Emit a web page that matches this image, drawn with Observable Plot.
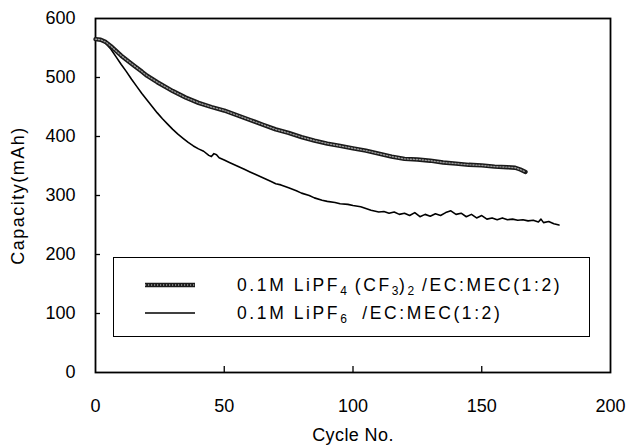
<!DOCTYPE html>
<html>
<head>
<meta charset="utf-8">
<script src="https://cdn.jsdelivr.net/npm/d3@7"></script>
<script src="https://cdn.jsdelivr.net/npm/@observablehq/plot@0.6"></script>
<style>
  html, body { margin: 0; padding: 0; background: #fff; }
  #wrap { position: relative; width: 638px; height: 445px; font-family: "Liberation Sans", Arial, sans-serif; }
  #legend { position: absolute; left: 113px; top: 257px; width: 475px; height: 78px; border: 1.5px solid #000; background: #fff; box-sizing: content-box; }
  .row { position: absolute; left: 0; height: 20px; display: flex; align-items: center; font-size: 17.5px; letter-spacing: 2.6px; color: #000; white-space: pre; }
  .row svg { margin-left: 31px; margin-right: 42px; }
  sub { font-size: 12px; vertical-align: -4px; line-height: 0; letter-spacing: 0.5px; }
</style>
</head>
<body>
<div id="wrap"></div>
<script>
// Series: LiPF4(CF3)2 / EC:MEC(1:2)
const cycA = [0,2,4,6,8,10,12,15,18,20,24,28,30,35,40,45,50,55,60,65,70,75,80,85,90,95,100,105,110,115,120,125,130,135,140,145,150,155,160,163,165,167];
const capA = [565,564,560,553,545,537,530,520,510,503,492,482,477,466,457,450,444,436,428,420,412,406,399,393,388,384,380,376,371,366,362,361,359,356,354,352,351,349,348,347,344,340];
// Series: LiPF6 / EC:MEC(1:2)
const cycB = [0,2,4,6,8,10,12,14,16,18,20,22,24,26,28,30,32,34,36,38,40,42,44,45,46,47,48,50,52,55,58,60,62,65,68,70,72,75,78,80,83,85,88,90,93,95,98,100,103,105,107,110,112,114,116,118,120,122,124,126,128,130,132,134,136,138,140,142,144,146,148,150,152,154,156,158,160,162,164,166,168,170,172,173,174,176,178,180];
const capB = [565,563,558,548,535,522,510,497,485,473,462,451,440,430,421,412,404,397,390,384,379,375,368,366,371,369,364,360,356,350,344,340,336,330,324,320,318,313,308,304,300,296,292,290,288,286,285,283,281,278,275,272,273,270,272,268,270,266,271,264,268,265,269,266,271,274,268,270,264,268,262,266,260,262,259,262,259,260,258,259,257,258,255,260,254,256,252,250];
const xTicks = [0,50,100,150,200];
const yTicks = [0,100,200,300,400,500,600];
const innerXTicks = [50,100,150];
const innerYTicks = [100,200,300,400,500];
const legendLabels = ["0.1M LiPF<sub>4</sub> (CF<sub>3</sub>)<sub>2</sub> /EC:MEC(1:2)", "0.1M LiPF<sub>6</sub>  /EC:MEC(1:2)"];

const A = cycA.map((c,i) => ({cycle: c, cap: capA[i]}));
const B = cycB.map((c,i) => ({cycle: c, cap: capB[i]}));

const chart = Plot.plot({
  width: 638, height: 445,
  marginLeft: 95, marginRight: 28, marginTop: 18, marginBottom: 73,
  style: {fontFamily: "Liberation Sans, Arial, sans-serif", fontSize: "18px", color: "#000", background: "#fff"},
  x: {domain: [0,200]},
  y: {domain: [0,600]},
  marks: [
    Plot.frame({stroke: "#000", strokeWidth: 1.8}),
    Plot.axisX({ticks: xTicks, tickSize: 0, tickPadding: 27, label: "Cycle No.", labelAnchor: "center", labelArrow: "none", labelOffset: 68, fontSize: 18}),
    Plot.axisX({ticks: innerXTicks, tickSize: 6, dy: -6, tickFormat: () => "", label: null, strokeWidth: 1.3}),
    Plot.axisY({ticks: yTicks, tickSize: 0, tickPadding: 20, label: "Capacity(mAh)", labelAnchor: "center", labelArrow: "none", labelOffset: 84, fontSize: 18}),
    Plot.axisY({ticks: innerYTicks, tickSize: 5, dx: 5, tickFormat: () => "", label: null, strokeWidth: 1.3}),
    Plot.line(B, {x: "cycle", y: "cap", stroke: "#000", strokeWidth: 1.6}),
    Plot.line(A, {x: "cycle", y: "cap", stroke: "#1a1a1a", strokeWidth: 4.4}),
    Plot.line(A, {x: "cycle", y: "cap", stroke: "#999", strokeWidth: 1.4, strokeDasharray: "1.2 1.8"})
  ]
});
const wrap = document.getElementById("wrap");
wrap.appendChild(chart);
chart.querySelectorAll("g[aria-label='x-axis label'] text").forEach(t => { t.setAttribute("font-size", "18"); t.setAttribute("letter-spacing", "0.4"); });
chart.querySelectorAll("g[aria-label='y-axis label'] text").forEach(t => { t.setAttribute("font-size", "18"); t.setAttribute("letter-spacing", "1.5"); });

const legend = document.createElement("div");
legend.id = "legend";
const swatches = [
  `<svg width="50" height="8"><line x1="0" y1="4" x2="50" y2="4" stroke="#1a1a1a" stroke-width="4.4"/><line x1="0" y1="4" x2="50" y2="4" stroke="#999" stroke-width="1.4" stroke-dasharray="1.2 1.8"/></svg>`,
  `<svg width="50" height="8"><line x1="0" y1="4" x2="50" y2="4" stroke="#000" stroke-width="1.6"/></svg>`
];
legendLabels.forEach((lab, i) => {
  const r = document.createElement("div");
  r.className = "row";
  r.style.top = (i === 0 ? 17 : 45) + "px";
  r.innerHTML = swatches[i] + `<span>${lab}</span>`;
  legend.appendChild(r);
});
wrap.appendChild(legend);
</script>
</body>
</html>
